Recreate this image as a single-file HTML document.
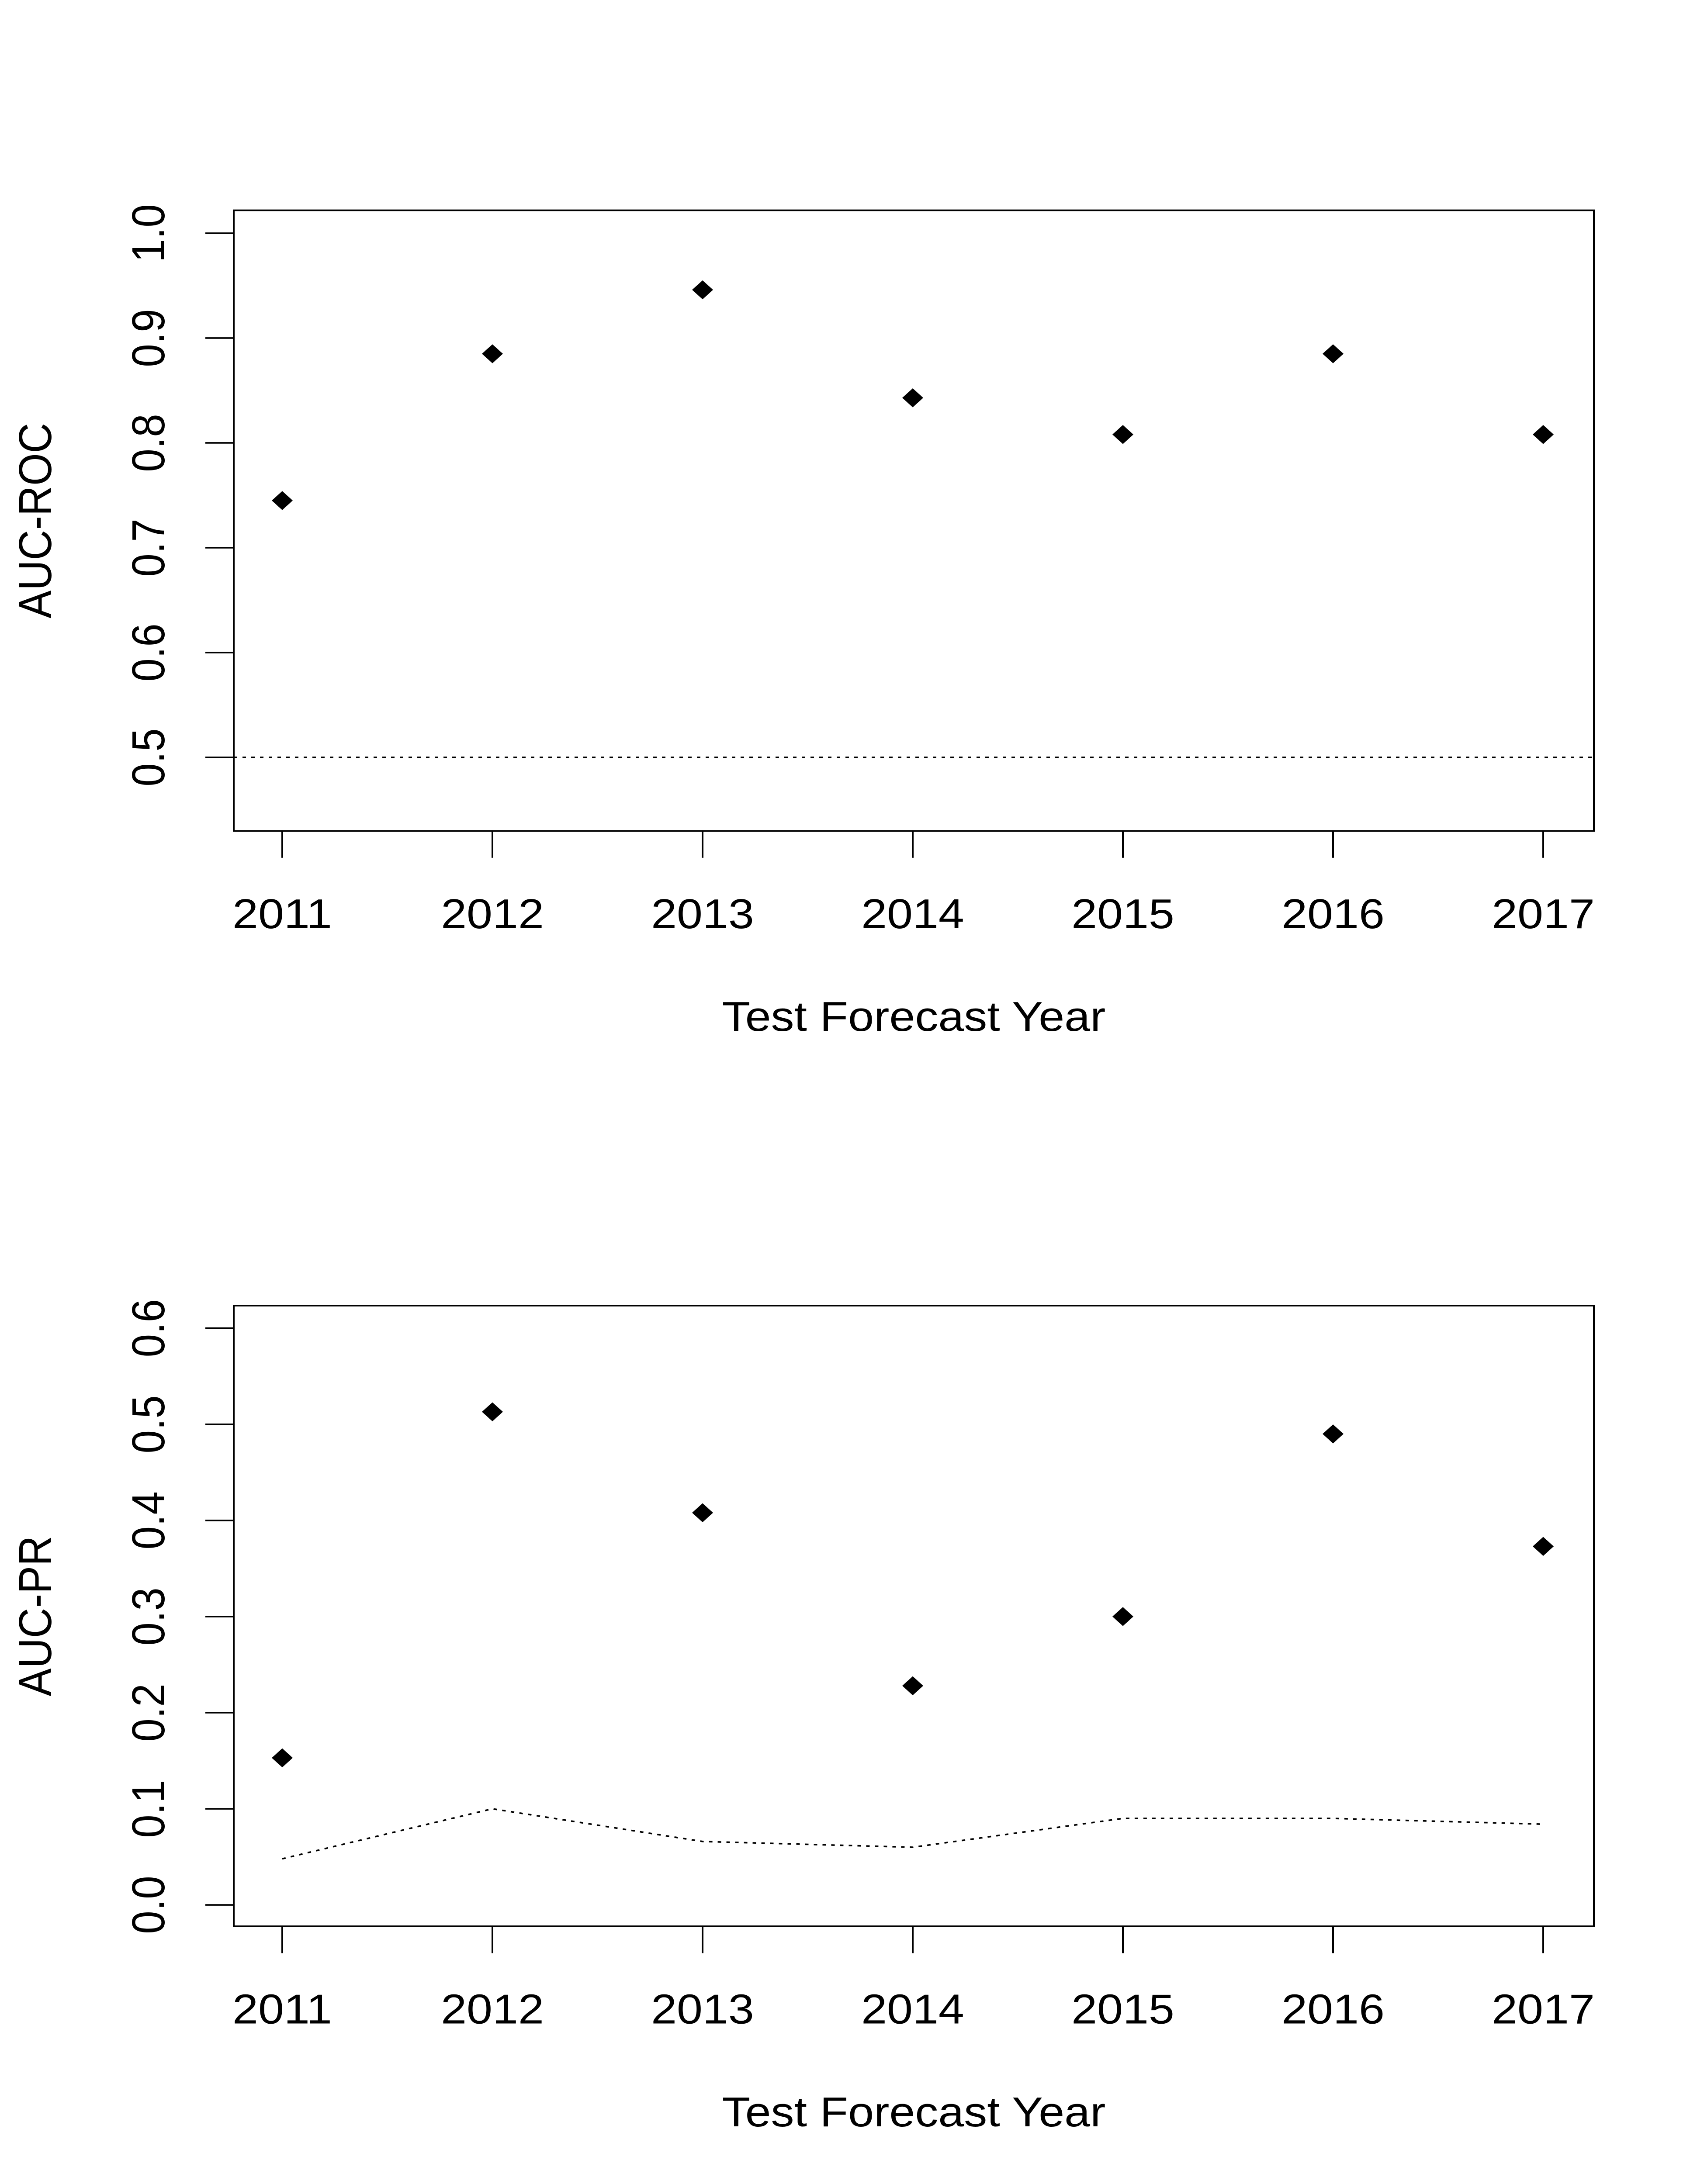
<!DOCTYPE html>
<html><head><meta charset="utf-8"><style>
html,body{margin:0;padding:0;background:#fff;overflow:hidden;width:100%;height:100%;}
svg{display:block;font-family:"Liberation Sans",Arial,sans-serif;width:100vw;height:100vh;}
</style></head><body>
<svg id="chart" viewBox="0 0 3900 5525" preserveAspectRatio="none" xmlns="http://www.w3.org/2000/svg"></svg>
<script>
const years = [2011, 2012, 2013, 2014, 2015, 2016, 2017];
const rocValues = [0.745, 0.885, 0.946, 0.843, 0.808, 0.885, 0.808];
const rocBaseline = [0.5, 0.5, 0.5, 0.5, 0.5, 0.5, 0.5];
const rocTicks = ["0.5", "0.6", "0.7", "0.8", "0.9", "1.0"];
const prValues = [0.153, 0.513, 0.408, 0.228, 0.300, 0.490, 0.373];
const prBaseline = [0.048, 0.100, 0.066, 0.060, 0.090, 0.090, 0.084];
const prTicks = ["0.0", "0.1", "0.2", "0.3", "0.4", "0.5", "0.6"];

const svg = document.getElementById('chart');
const NS = 'http://www.w3.org/2000/svg';
function mk(tag, attrs, parent) {
  const e = document.createElementNS(NS, tag);
  for (const k in attrs) e.setAttribute(k, attrs[k]);
  (parent || svg).appendChild(e);
  return e;
}
function panel(name, top, bottom, ticks, v0, v1, y0px, y1px, values, baseline, full, ytitle) {
  const g = mk('g', {});
  
  
  const left = 535, right = 3648;
  const xs = v => 646 + (v - years[0]) * 481;
  const ys = v => y0px + (v - v0) / (v1 - v0) * (y1px - y0px);
  const box = mk('rect', {x: left, y: top, width: right - left, height: bottom - top, fill: 'none', stroke: '#000', 'stroke-width': 4}, g);
  
  
  const yax = mk('g', {}, g);
  
  
  ticks.forEach(t => {
    const y = ys(parseFloat(t));
    mk('line', {x1: left - 65, x2: left, y1: y, y2: y, stroke: '#000', 'stroke-width': 4}, yax);
    const tx = mk('text', {x: 0, y: 0, transform: `translate(376,${y}) rotate(-90)`, 'text-anchor': 'middle', 'font-size': 106}, yax);
    tx.textContent = t;
    
    
  });
  const yl = mk('text', {transform: `translate(117,${(top + bottom) / 2}) rotate(-90)`, 'text-anchor': 'middle', 'font-size': 106}, g);
  yl.textContent = ytitle;
  
  
  const xax = mk('g', {}, g);
  
  
  years.forEach(yr => {
    const x = xs(yr);
    mk('line', {x1: x, x2: x, y1: bottom, y2: bottom + 68, stroke: '#000', 'stroke-width': 4}, xax);
    const tx = mk('text', {x: x, y: bottom + 246, 'text-anchor': 'middle', 'font-size': 106}, xax);
    tx.textContent = yr;
    
    
  });
  const xl = mk('text', {x: (left + right) / 2, y: bottom + 506, 'text-anchor': 'middle', 'font-size': 106}, g);
  xl.textContent = 'Test Forecast Year';
  
  
  let pts;
  if (full) pts = `${left},${ys(baseline[0])} ${right},${ys(baseline[0])}`;
  else pts = baseline.map((v, i) => `${xs(years[i])},${ys(v)}`).join(' ');
  const bl = mk('polyline', {points: pts, fill: 'none', stroke: '#000', 'stroke-width': 4, 'stroke-dasharray': '8 12'}, g);
  
  
  values.forEach((v, i) => {
    const x = xs(years[i]), y = ys(v);
    const p = mk('polygon', {points: `${x - 24},${y} ${x},${y - 24} ${x + 24},${y} ${x},${y + 24}`, fill: '#000'}, g);
    
    
  });
}
panel('auc-roc-panel', 532, 2102, rocTicks, 0.5, 1.0, 1916, 590, rocValues, rocBaseline, true, 'AUC-ROC');
panel('auc-pr-panel', 3303, 4873, prTicks, 0.0, 0.6, 4819, 3360, prValues, prBaseline, false, 'AUC-PR');
</script>
</body></html>
